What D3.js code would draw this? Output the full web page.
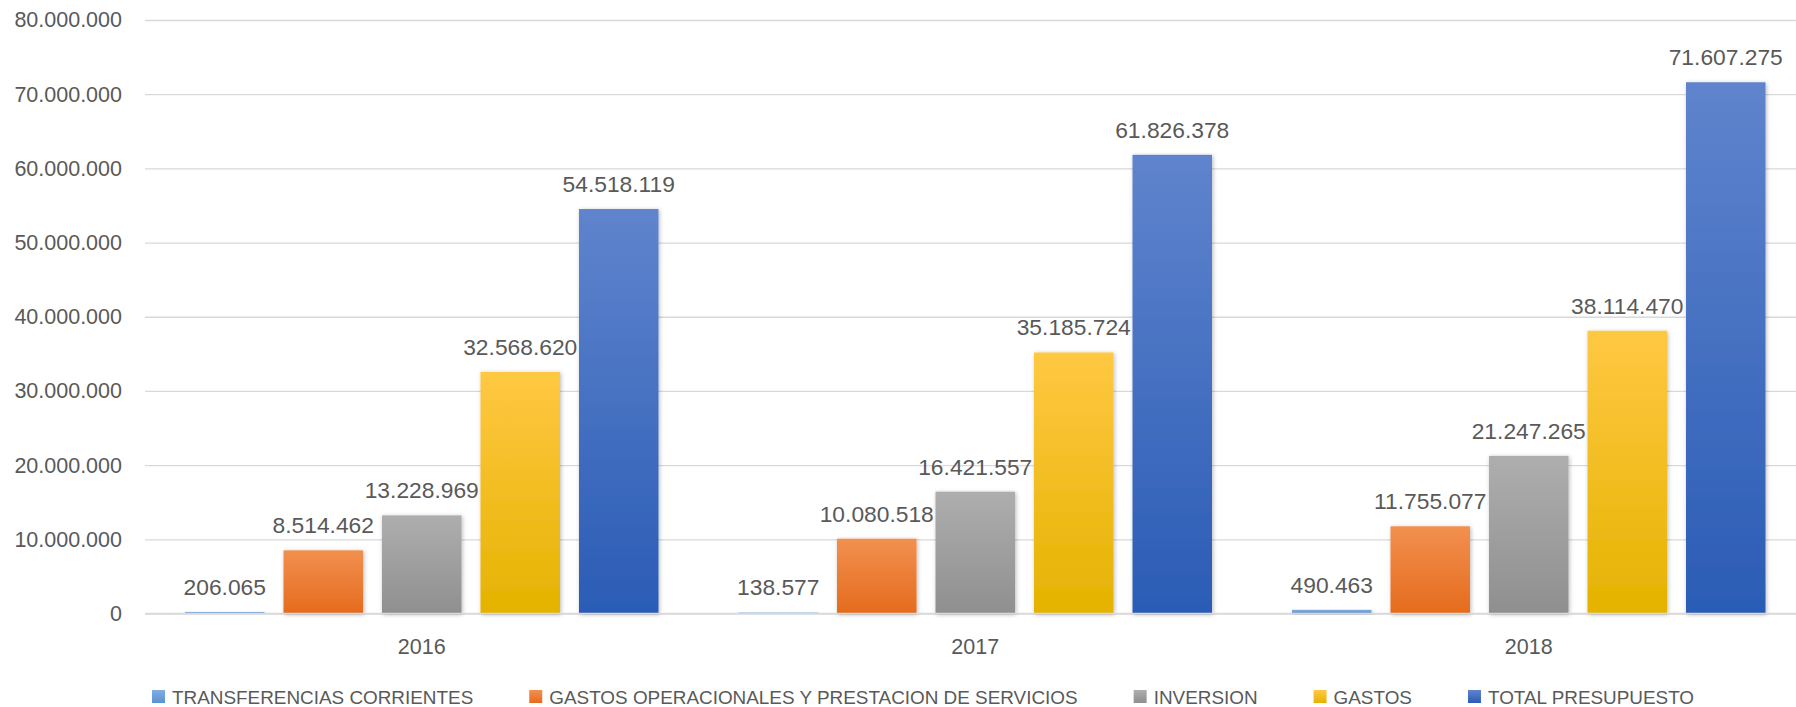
<!DOCTYPE html>
<html>
<head>
<meta charset="utf-8">
<script src="https://cdn.jsdelivr.net/npm/d3@7/dist/d3.min.js"></script>
<style>
  html, body { margin: 0; padding: 0; background: #ffffff; }
  svg { display: block; }
  text { font-family: "Liberation Sans", Arial, sans-serif; fill: #595959; }
</style>
</head>
<body>
<svg id="chart" width="1796" height="707"></svg>
<script>
// ---- data ----
const years = ["2016", "2017", "2018"];
const seriesNames = [
  "TRANSFERENCIAS CORRIENTES",
  "GASTOS OPERACIONALES Y PRESTACION DE SERVICIOS",
  "INVERSION",
  "GASTOS",
  "TOTAL PRESUPUESTO"
];
const transferenciasCorrientes = [206065, 138577, 490463];
const gastosOperacionales = [8514462, 10080518, 11755077];
const inversion = [13228969, 16421557, 21247265];
const gastos = [32568620, 35185724, 38114470];
const totalPresupuesto = [54518119, 61826378, 71607275];
const yTickValues = [0, 10000000, 20000000, 30000000, 40000000, 50000000, 60000000, 70000000, 80000000];

// ---- styles ----
const colorStops = [
  ["#80AEE2", "#5A92D2"],
  ["#F2904F", "#E56B1D"],
  ["#AEAEAE", "#8F8F8F"],
  ["#FFC843", "#E4B300"],
  ["#5F84CD", "#2B5CB5"]
];

const seriesValues = [transferenciasCorrientes, gastosOperacionales, inversion, gastos, totalPresupuesto];
const table = years.map((yr, i) => ({
  year: yr,
  values: seriesNames.map((s, k) => ({ key: s, idx: k, value: seriesValues[k][i] }))
}));

const fmtLocale = d3.formatLocale({ decimal: ",", thousands: ".", grouping: [3], currency: ["$", ""] });
const fmt = fmtLocale.format(",d");

const svg = d3.select("#chart");
const W = 1796, H = 707;
const mLeft = 145, mRight = 1805.5, mTop = 20, mBottom = 613.5;

const x0 = d3.scaleBand().domain(years).range([mLeft, mRight]).paddingInner(0).paddingOuter(0);
const x1 = d3.scaleBand().domain(seriesNames).range([40, x0.bandwidth() - 40]).paddingInner(0.193).paddingOuter(0);
const y = d3.scaleLinear().domain([0, 80000000]).range([mBottom, mTop]);

// defs
const defs = svg.append("defs");
colorStops.forEach((c, k) => {
  const g = defs.append("linearGradient").attr("id", "grad" + k)
    .attr("x1", 0).attr("y1", 0).attr("x2", 0).attr("y2", 1);
  g.append("stop").attr("offset", "0%").attr("stop-color", c[0]);
  g.append("stop").attr("offset", "100%").attr("stop-color", c[1]);
});
const f = defs.append("filter").attr("id", "shadow")
  .attr("x", "-20%").attr("y", "-20%").attr("width", "140%").attr("height", "140%");
f.append("feDropShadow").attr("dx", 1).attr("dy", 1).attr("stdDeviation", 2)
  .attr("flood-color", "#000").attr("flood-opacity", 0.28);

// y axis with gridlines
const yAxis = d3.axisLeft(y).tickValues(yTickValues).tickFormat(fmt)
  .tickSize(-(W - mLeft)).tickPadding(23);
const gy = svg.append("g").attr("transform", `translate(${mLeft},0)`).call(yAxis);
gy.select(".domain").remove();
gy.selectAll(".tick line").attr("stroke", "#D9D9D9").attr("stroke-width", 1.3);
gy.selectAll(".tick text").attr("font-size", "21.5px")
  .style("font-family", '"Liberation Sans", Arial, sans-serif').attr("fill", "#595959");

// bars
const groups = svg.append("g").selectAll("g").data(table).join("g")
  .attr("transform", d => `translate(${x0(d.year)},0)`);

groups.selectAll("rect").data(d => d.values).join("rect")
  .attr("x", d => x1(d.key))
  .attr("y", d => y(d.value))
  .attr("width", x1.bandwidth())
  .attr("height", d => Math.max(0, y(0) - y(d.value)))
  .attr("fill", d => `url(#grad${d.idx})`)
  .attr("filter", "url(#shadow)");

groups.selectAll("text.val").data(d => d.values).join("text")
  .attr("class", "val")
  .attr("x", d => x1(d.key) + x1.bandwidth() / 2)
  .attr("y", d => y(d.value) - 17)
  .attr("text-anchor", "middle")
  .attr("font-size", "22.8px")
  .text(d => fmt(d.value));

// baseline
svg.append("line").attr("x1", mLeft).attr("x2", W).attr("y1", y(0)).attr("y2", y(0))
  .attr("stroke", "#D9D9D9").attr("stroke-width", 1.5);

// x axis labels
const xAxis = d3.axisBottom(x0).tickSize(0).tickPadding(25);
const gx = svg.append("g").attr("transform", `translate(0,${mBottom})`).call(xAxis);
gx.select(".domain").remove();
gx.selectAll(".tick text").attr("font-size", "21.5px")
  .style("font-family", '"Liberation Sans", Arial, sans-serif').attr("fill", "#595959");

// legend
const legend = svg.append("g");
let lx = 152;
seriesNames.forEach((s, k) => {
  const item = legend.append("g").attr("transform", `translate(${lx},0)`);
  item.append("rect").attr("x", 0).attr("y", 690).attr("width", 13).attr("height", 13)
    .attr("fill", `url(#grad${k})`);
  const t = item.append("text").attr("x", 20).attr("y", 703.5)
    .attr("font-size", "18.9px").text(s);
  lx += 20 + t.node().getComputedTextLength() + 56;
});
</script>
</body>
</html>
